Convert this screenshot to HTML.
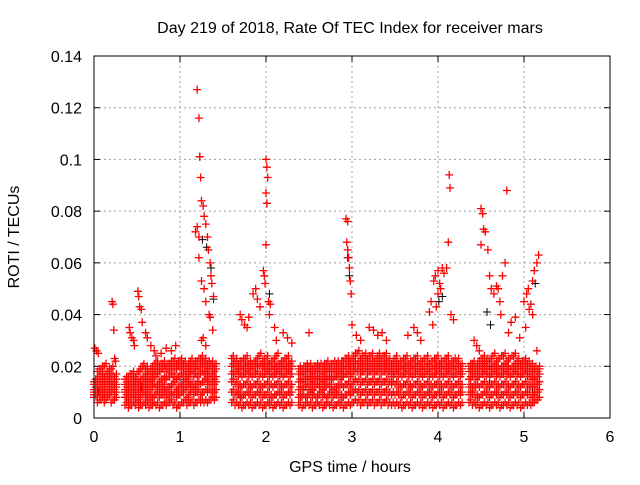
<!DOCTYPE html>
<html><head><meta charset="utf-8"><style>
body{margin:0;background:#fff;width:640px;height:480px;overflow:hidden}
svg text{font-family:"Liberation Sans",sans-serif;font-size:16px}
</style></head><body>
<svg id="chart" width="640" height="480" xmlns="http://www.w3.org/2000/svg">
<text x="350" y="33" text-anchor="middle" style="font-size:16px">Day 219 of 2018, Rate Of TEC Index for receiver mars</text>
<text transform="translate(19,237) rotate(-90)" text-anchor="middle">ROTI / TECUs</text>
<text x="350" y="472" text-anchor="middle">GPS time / hours</text>
<g id="grid"></g><g id="ticks"></g><g id="pts"></g>
<rect x="94" y="56" width="516" height="362" fill="none" stroke="#000" stroke-width="1"/>
</svg>
<script>
const xTicks=[0,1,2,3,4,5,6];
const yTicks=[0,0.02,0.04,0.06,0.08,0.1,0.12,0.14];
const yTickLabels=["0","0.02","0.04","0.06","0.08","0.1","0.12","0.14"];
// band rows: [time, values...]
const bandRows=[
[0.00,0.008,0.011,0.013,0.010,0.014,0.009],[0.04,0.006,0.009,0.012,0.015,0.018,0.011],[0.08,0.007,0.010,0.014,0.017,0.019,0.012],
[0.12,0.006,0.009,0.012,0.016,0.020,0.014],[0.16,0.008,0.011,0.013,0.015,0.018,0.010],[0.20,0.006,0.010,0.013,0.016,0.019,0.012],
[0.24,0.007,0.009,0.012,0.014,0.016,0.011],
[0.36,0.005,0.008,0.011,0.013,0.015,0.010],[0.40,0.004,0.007,0.010,0.013,0.016,0.009],[0.44,0.005,0.008,0.011,0.014,0.017,0.012],
[0.48,0.005,0.008,0.010,0.013,0.016,0.011],[0.52,0.004,0.007,0.010,0.014,0.018,0.012],[0.56,0.005,0.009,0.012,0.015,0.019,0.020],
[0.60,0.005,0.008,0.011,0.014,0.017,0.019],[0.64,0.004,0.007,0.010,0.013,0.016,0.018],[0.68,0.005,0.008,0.012,0.015,0.018,0.020],
[0.72,0.005,0.009,0.012,0.016,0.019,0.021],[0.76,0.004,0.008,0.011,0.014,0.018,0.020],[0.80,0.005,0.009,0.012,0.015,0.019,0.021],
[0.84,0.005,0.008,0.011,0.015,0.018,0.020],[0.88,0.006,0.009,0.012,0.016,0.019,0.021],[0.92,0.005,0.009,0.013,0.016,0.019,0.022],
[0.96,0.004,0.008,0.011,0.015,0.019,0.021],[1.00,0.005,0.009,0.012,0.016,0.019,0.022],[1.04,0.006,0.010,0.013,0.016,0.019,0.021],
[1.08,0.005,0.008,0.012,0.015,0.018,0.020],[1.12,0.006,0.010,0.013,0.017,0.020,0.022],[1.16,0.005,0.009,0.012,0.016,0.019,0.021],
[1.20,0.006,0.010,0.013,0.016,0.019,0.022],[1.24,0.006,0.009,0.013,0.017,0.020,0.023],[1.28,0.006,0.010,0.014,0.017,0.020,0.022],
[1.32,0.006,0.010,0.013,0.016,0.019,0.021],[1.36,0.007,0.010,0.013,0.016,0.019,0.021],[1.40,0.007,0.010,0.013,0.015,0.018,0.020],
[1.60,0.006,0.010,0.014,0.017,0.020,0.023],[1.64,0.005,0.009,0.013,0.017,0.020,0.022],[1.68,0.005,0.009,0.012,0.016,0.019,0.021],
[1.72,0.004,0.008,0.012,0.016,0.019,0.022],[1.76,0.005,0.009,0.013,0.017,0.020,0.023],[1.80,0.005,0.009,0.012,0.016,0.019,0.021],
[1.84,0.004,0.008,0.012,0.016,0.019,0.021],[1.88,0.005,0.009,0.013,0.017,0.020,0.022],[1.92,0.005,0.009,0.012,0.016,0.020,0.024],
[1.96,0.004,0.008,0.012,0.016,0.019,0.022],[2.00,0.005,0.009,0.013,0.017,0.020,0.023],[2.04,0.005,0.008,0.012,0.016,0.019,0.021],
[2.08,0.004,0.008,0.012,0.016,0.019,0.022],[2.12,0.005,0.009,0.013,0.017,0.020,0.024],[2.16,0.005,0.009,0.012,0.016,0.019,0.021],
[2.20,0.004,0.008,0.012,0.016,0.019,0.022],[2.24,0.005,0.009,0.013,0.017,0.020,0.023],[2.28,0.005,0.009,0.012,0.016,0.019,0.021],
[2.38,0.005,0.008,0.011,0.014,0.017,0.019],[2.42,0.004,0.008,0.011,0.014,0.017,0.019],[2.46,0.005,0.008,0.012,0.015,0.018,0.020],
[2.50,0.005,0.009,0.012,0.015,0.018,0.020],[2.54,0.004,0.008,0.011,0.014,0.017,0.019],[2.58,0.005,0.008,0.012,0.015,0.018,0.020],
[2.62,0.005,0.009,0.012,0.015,0.018,0.020],[2.66,0.004,0.008,0.011,0.014,0.017,0.020],[2.70,0.005,0.008,0.012,0.015,0.018,0.021],
[2.74,0.005,0.009,0.012,0.015,0.018,0.020],[2.78,0.004,0.008,0.011,0.015,0.018,0.021],[2.82,0.005,0.009,0.012,0.016,0.019,0.021],
[2.86,0.005,0.008,0.012,0.015,0.018,0.021],[2.90,0.004,0.008,0.012,0.016,0.019,0.022],[2.94,0.005,0.009,0.013,0.017,0.020,0.023],
[2.98,0.005,0.009,0.012,0.016,0.019,0.022],[3.02,0.006,0.010,0.014,0.018,0.021,0.024],[3.06,0.006,0.010,0.014,0.018,0.021,0.025],
[3.10,0.005,0.009,0.013,0.017,0.020,0.023],[3.14,0.006,0.010,0.014,0.018,0.021,0.024],[3.18,0.005,0.009,0.013,0.017,0.020,0.023],
[3.22,0.006,0.010,0.014,0.018,0.021,0.024],[3.26,0.005,0.009,0.013,0.017,0.020,0.022],[3.30,0.006,0.010,0.014,0.018,0.021,0.024],
[3.34,0.005,0.009,0.013,0.017,0.020,0.023],[3.38,0.006,0.010,0.014,0.018,0.021,0.024],[3.42,0.005,0.009,0.013,0.017,0.020,0.022],
[3.46,0.005,0.009,0.013,0.016,0.019,0.021],[3.50,0.005,0.009,0.013,0.017,0.020,0.023],[3.54,0.005,0.009,0.012,0.016,0.019,0.021],
[3.58,0.004,0.008,0.012,0.016,0.019,0.022],[3.62,0.005,0.009,0.013,0.017,0.020,0.023],[3.66,0.005,0.009,0.012,0.016,0.019,0.021],
[3.70,0.004,0.008,0.012,0.016,0.019,0.022],[3.74,0.005,0.009,0.013,0.017,0.020,0.023],[3.78,0.005,0.009,0.012,0.016,0.019,0.021],
[3.82,0.004,0.008,0.012,0.016,0.019,0.022],[3.86,0.005,0.009,0.013,0.017,0.020,0.023],[3.90,0.005,0.009,0.012,0.016,0.019,0.021],
[3.94,0.004,0.008,0.012,0.016,0.019,0.022],[3.98,0.005,0.009,0.013,0.017,0.020,0.023],[4.02,0.005,0.009,0.012,0.016,0.019,0.021],
[4.06,0.004,0.008,0.012,0.016,0.019,0.022],[4.10,0.005,0.009,0.013,0.017,0.020,0.023],[4.14,0.005,0.009,0.012,0.016,0.019,0.021],
[4.18,0.004,0.008,0.012,0.016,0.019,0.022],[4.22,0.005,0.009,0.013,0.017,0.020,0.022],[4.26,0.005,0.009,0.012,0.016,0.018,0.020],
[4.36,0.006,0.009,0.012,0.015,0.018,0.020],[4.40,0.005,0.009,0.012,0.016,0.019,0.021],[4.44,0.005,0.008,0.012,0.015,0.018,0.020],
[4.48,0.004,0.008,0.012,0.016,0.019,0.022],[4.52,0.005,0.009,0.013,0.017,0.020,0.023],[4.56,0.005,0.009,0.012,0.016,0.019,0.022],
[4.60,0.004,0.008,0.012,0.016,0.019,0.022],[4.64,0.005,0.009,0.013,0.017,0.020,0.024],[4.68,0.005,0.009,0.012,0.016,0.019,0.022],
[4.72,0.004,0.008,0.012,0.016,0.019,0.023],[4.76,0.005,0.009,0.013,0.017,0.020,0.024],[4.80,0.005,0.009,0.012,0.016,0.019,0.022],
[4.84,0.004,0.008,0.012,0.016,0.019,0.023],[4.88,0.005,0.009,0.013,0.017,0.020,0.024],[4.92,0.005,0.009,0.012,0.016,0.019,0.022],
[4.96,0.004,0.008,0.012,0.016,0.019,0.021],[5.00,0.005,0.009,0.013,0.017,0.020,0.022],[5.04,0.005,0.009,0.012,0.016,0.019,0.021],
[5.08,0.005,0.008,0.012,0.015,0.018,0.020],[5.12,0.006,0.009,0.012,0.015,0.018,0.019],[5.16,0.007,0.010,0.013,0.016,0.018,0.019]
];
const peakT=[0.01,0.03,0.05,0.21,0.22,0.23,0.24,0.25,0.41,0.42,0.44,0.46,0.47,0.51,0.52,0.53,0.55,0.56,0.60,0.62,0.70,0.72,0.66,0.78,0.84,0.90,0.95,
1.20,1.22,1.23,1.24,1.20,1.18,1.22,1.25,1.27,1.28,1.30,1.32,1.33,1.35,1.36,1.37,1.39,1.25,1.28,1.30,1.35,1.38,1.27,1.30,1.25,1.22,1.34,
1.70,1.72,1.75,1.78,1.80,1.85,1.88,1.90,1.93,1.97,1.98,2.00,2.01,2.02,2.00,2.01,2.00,1.99,2.03,2.05,2.04,2.10,2.12,2.20,2.25,2.30,2.50,
2.93,2.95,2.94,2.95,2.96,2.97,2.98,2.99,3.00,3.05,3.10,3.20,3.25,3.30,3.35,3.40,3.72,3.76,3.80,3.65,
3.90,3.92,3.95,3.97,4.00,4.02,4.05,4.07,4.10,4.12,4.13,4.14,4.15,4.18,4.00,3.98,3.94,4.03,
4.42,4.45,4.48,4.50,4.52,4.53,4.55,4.50,4.58,4.60,4.62,4.65,4.68,4.70,4.72,4.75,4.78,4.80,4.73,4.85,4.90,4.82,4.95,
5.00,5.03,5.05,5.08,5.10,5.12,5.15,5.17,5.10,5.15,5.02,5.06];
const peakV=[0.027,0.026,0.025,0.045,0.044,0.034,0.023,0.022,0.035,0.033,0.031,0.030,0.028,0.049,0.047,0.043,0.042,0.037,0.033,0.031,0.026,0.024,0.028,0.025,0.027,0.026,0.028,
0.127,0.116,0.101,0.093,0.074,0.072,0.070,0.084,0.082,0.078,0.075,0.070,0.065,0.060,0.055,0.052,0.047,0.053,0.050,0.045,0.039,0.034,0.031,0.028,0.030,0.062,0.040,
0.040,0.038,0.036,0.035,0.039,0.048,0.050,0.046,0.043,0.057,0.055,0.100,0.097,0.093,0.087,0.083,0.067,0.052,0.045,0.044,0.040,0.035,0.030,0.033,0.031,0.029,0.033,
0.077,0.076,0.068,0.065,0.062,0.058,0.053,0.048,0.036,0.032,0.030,0.035,0.034,0.032,0.033,0.030,0.035,0.033,0.030,0.032,
0.041,0.045,0.053,0.055,0.057,0.052,0.058,0.056,0.058,0.068,0.094,0.089,0.040,0.038,0.048,0.043,0.036,0.050,
0.030,0.028,0.026,0.081,0.079,0.073,0.072,0.067,0.065,0.055,0.050,0.048,0.051,0.050,0.045,0.055,0.060,0.088,0.040,0.037,0.039,0.033,0.031,
0.045,0.048,0.050,0.044,0.053,0.057,0.060,0.063,0.040,0.026,0.035,0.042];
const blackT=[1.23,1.26,1.31,1.36,1.39,2.01,2.04,2.95,2.97,4.01,4.05,4.57,4.61,5.13,0.05,0.55,1.0,1.7,2.5,3.3,3.9,4.6,5.1];
const blackV=[0.101,0.069,0.066,0.058,0.046,0.083,0.048,0.062,0.055,0.045,0.047,0.041,0.036,0.052,0.010,0.012,0.015,0.008,0.011,0.014,0.009,0.013,0.010];

const X0=94,X1=610,Y0=418,Y1=56;
const xs=v=>X0+v/6*(X1-X0);
const ys=v=>Y0-v/0.14*(Y0-Y1);
const NS="http://www.w3.org/2000/svg";
function mk(tag,attrs,parent){const e=document.createElementNS(NS,tag);for(const k in attrs)e.setAttribute(k,attrs[k]);parent.appendChild(e);return e;}
const grid=document.getElementById('grid'),ticks=document.getElementById('ticks'),pts=document.getElementById('pts');
xTicks.forEach((t,i)=>{
  const x=xs(t);
  if(i>0&&i<xTicks.length-1){const g=mk('line',{x1:x,x2:x,y1:Y0,y2:Y1,stroke:'#a0a0a0','stroke-dasharray':'2,3'},grid);
  
  }
  mk('line',{x1:x,x2:x,y1:Y0,y2:Y0-6,stroke:'#000'},ticks);
  mk('line',{x1:x,x2:x,y1:Y1,y2:Y1+6,stroke:'#000'},ticks);
  const tx=mk('text',{x:x,y:Y0+24,'text-anchor':'middle'},ticks);tx.textContent=String(t);
  
  
});
yTicks.forEach((t,i)=>{
  const y=ys(t);
  if(i>0&&i<yTicks.length-1){const g=mk('line',{x1:X0,x2:X1,y1:y,y2:y,stroke:'#a0a0a0','stroke-dasharray':'2,3'},grid);
  
  }
  mk('line',{x1:X0,x2:X0+6,y1:y,y2:y,stroke:'#000'},ticks);
  mk('line',{x1:X1,x2:X1-6,y1:y,y2:y,stroke:'#000'},ticks);
  const tx=mk('text',{x:X0-12,y:y+6,'text-anchor':'end'},ticks);tx.textContent=yTickLabels[i];
  
  
});
let d='';
function cross(t,v){const x=xs(t),y=ys(v);return `M${(x-4).toFixed(1)} ${y.toFixed(1)}h8M${x.toFixed(1)} ${(y-4).toFixed(1)}v8`;}
bandRows.forEach(r=>{for(let j=1;j<r.length;j++){d+=cross(r[0],r[j]);d+=cross(r[0]+0.02,r[j]+0.001);}});
peakT.forEach((t,i)=>{d+=cross(t,peakV[i]);});
let db='';
blackT.forEach((t,i)=>{db+=cross(t,blackV[i]);});
const pb=mk('path',{d:db,stroke:'#000','stroke-width':1,fill:'none'},pts);


const pr=mk('path',{d:d,stroke:'#f00','stroke-width':1.3,fill:'none'},pts);


</script>
</body></html>
